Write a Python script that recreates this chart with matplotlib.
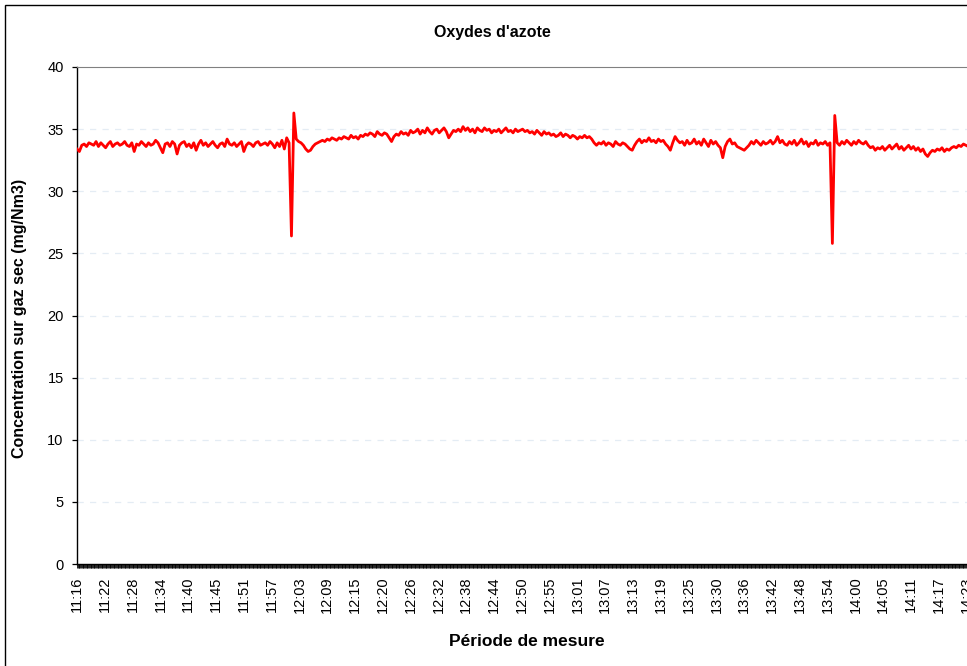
import matplotlib
matplotlib.use("Agg")
import matplotlib.pyplot   as plt
from matplotlib.patches    import Rectangle
import numpy               as np

plt.rcParams["font.family"] = ["Liberation Sans", "DejaVu Sans"]

# NOx, une valeur toutes les 30 s (3 pas de 10 s)
nox = [
    33.4, 33.2, 33.7, 33.8, 33.6, 33.9, 33.8, 33.7, 34.0, 33.6,
    33.9, 33.7, 33.5, 33.8, 34.0, 33.6, 33.8, 33.9, 33.7, 33.8,
    34.0, 33.7, 33.6, 33.9, 33.2, 33.8, 33.7, 34.0, 33.8, 33.6,
    33.9, 33.7, 33.8, 34.1, 33.9, 33.5, 33.1, 33.8, 33.9, 33.6,
    34.0, 33.8, 33.0, 33.7, 33.9, 34.0, 33.6, 33.8, 33.5, 33.9,
    33.3, 33.8, 34.1, 33.7, 33.9, 33.6, 33.8, 34.0, 33.7, 33.5,
    33.8, 33.9, 33.6, 34.2, 33.8, 33.7, 33.9, 33.6, 33.8, 34.0,
    33.2, 33.7, 33.9, 33.8, 33.6, 33.9, 34.0, 33.7, 33.8, 33.9,
    33.7, 34.0, 33.8, 33.5, 33.9, 33.6, 34.1, 33.4, 34.3, 33.9,
    26.4, 36.3, 34.2, 34.0, 33.9, 33.7, 33.4, 33.2, 33.3, 33.6,
    33.8, 33.9, 34.0, 34.1, 34.0, 34.2, 34.1, 34.3, 34.2, 34.1,
    34.3, 34.2, 34.4, 34.3, 34.2, 34.5, 34.3, 34.4, 34.2, 34.5,
    34.4, 34.6, 34.5, 34.7, 34.6, 34.4, 34.8, 34.6, 34.5, 34.7,
    34.6, 34.3, 34.0, 34.4, 34.6, 34.5, 34.8, 34.6, 34.7, 34.5,
    34.9, 34.7, 34.8, 35.0, 34.6, 34.9, 34.7, 35.1, 34.8, 34.6,
    34.9, 35.0, 34.7, 34.9, 35.1, 34.8, 34.3, 34.6, 34.9, 34.8,
    35.0, 34.8, 35.2, 34.9, 35.1, 34.8, 35.0, 34.7, 35.1, 34.9,
    34.8, 35.1, 34.9, 35.0, 34.7, 34.9, 34.8, 35.0, 34.7, 34.9,
    35.1, 34.8, 34.9, 34.7, 35.0, 34.8, 34.9, 35.0, 34.8, 34.9,
    34.7, 34.8, 34.6, 34.9, 34.7, 34.5, 34.8, 34.6, 34.7, 34.5,
    34.6, 34.4, 34.5, 34.7, 34.4, 34.6, 34.5, 34.3, 34.5, 34.4,
    34.2, 34.4, 34.3, 34.5, 34.3, 34.4, 34.2, 33.9, 33.7, 33.9,
    33.8, 34.0, 33.7, 33.9, 33.8, 33.6, 34.0, 33.8, 33.7, 33.9,
    33.8, 33.6, 33.4, 33.3, 33.7, 34.0, 34.2, 33.9, 34.1, 34.0,
    34.3, 34.0, 34.1, 33.9, 34.2, 34.0, 34.1, 33.8, 33.6, 33.3,
    33.9, 34.4, 34.1, 33.9, 34.0, 33.7, 34.1, 33.8, 33.9, 34.2,
    33.8, 34.0, 33.7, 34.2, 33.9, 33.6, 34.1, 33.8, 34.0, 33.7,
    33.5, 32.7, 33.6, 34.0, 34.2, 33.8, 33.9, 33.6, 33.5, 33.4,
    33.3, 33.5, 33.7, 34.0, 33.8, 34.1, 33.9, 33.7, 34.0, 33.8,
    33.9, 34.1, 33.8, 34.0, 34.4, 33.9, 34.1, 33.8, 33.7, 34.0,
    33.8, 34.1, 33.7, 33.9, 34.2, 33.8, 34.0, 33.6, 33.9, 33.8,
    34.1, 33.7, 33.9, 33.8, 34.0, 33.7, 33.9, 25.8, 36.1, 33.9,
    33.7, 34.0, 33.8, 34.1, 33.9, 33.7, 34.0, 33.8, 34.1, 33.9,
    33.8, 34.0, 33.7, 33.5, 33.6, 33.3, 33.5, 33.4, 33.6, 33.3,
    33.5, 33.7, 33.4, 33.6, 33.8, 33.4, 33.6, 33.3, 33.5, 33.7,
    33.4, 33.6, 33.3, 33.5, 33.2, 33.4, 33.0, 32.8, 33.1, 33.3,
    33.2, 33.4, 33.3, 33.5, 33.2, 33.4, 33.3, 33.5, 33.6, 33.5,
    33.7, 33.6, 33.8, 33.7, 33.6, 33.7, 33.8, 33.6, 33.7, 33.8,
]

# une étiquette toutes les 35 mesures de 10 s
tick_labels = [
    "11:16", "11:22", "11:28", "11:34", "11:40", "11:45", "11:51", "11:57",
    "12:03", "12:09", "12:15", "12:20", "12:26", "12:32", "12:38", "12:44",
    "12:50", "12:55", "13:01", "13:07", "13:13", "13:19", "13:25", "13:30",
    "13:36", "13:42", "13:48", "13:54", "14:00", "14:05", "14:11", "14:17",
    "14:23",
]
label_step  = 35
sample_step = 3
y_ticks     = [0, 5, 10, 15, 20, 25, 30, 35, 40]

x      = np.arange(len(nox)) * sample_step
n_cat  = len(nox) * sample_step

fig = plt.figure(figsize=(9.67, 6.66), dpi=100)
ax  = fig.add_axes([77 / 967, 102 / 666, n_cat * 0.7943 / 967, 497 / 666])

# cadre du graphique (coupé à droite et en bas)
fig.add_artist(Rectangle((5 / 967, -0.1), 1.2, 1.1 - 5 / 666, transform=fig.transFigure,
                         fill=False, edgecolor="black", linewidth=1.0, clip_on=False))

ax.plot(x, nox, color="#ff0000", linewidth=2.0, solid_joinstyle="round", zorder=3)

ax.set_ylim(0, 40)
ax.set_xlim(0, n_cat)
ax.set_yticks(y_ticks)
ax.set_yticklabels([str(v) for v in y_ticks], fontsize=10.5)
for v in y_ticks[1:-1]:
    ax.axhline(v, color="#e4ecf4", linewidth=0.9, dashes=(5, 5), zorder=1)

ax.set_xticks(np.arange(len(tick_labels)) * label_step)
ax.set_xticklabels(tick_labels, rotation=90, fontsize=10.5, va="top", ha="center")
ax.set_xticks(np.arange(n_cat), minor=True)
ax.tick_params(axis="x", which="both", direction="out", length=3, width=0.6, color="black")
ax.tick_params(axis="x", which="major", pad=6)
ax.tick_params(axis="y", direction="out", length=3.6, width=0.9, pad=6)

ax.spines["top"].set_color("#808080")
ax.spines["right"].set_visible(False)
for s in ["left", "bottom"]:
    ax.spines[s].set_color("black")
    ax.spines[s].set_linewidth(1.0)

fig.text(492 / 967, 1 - 33 / 666, "Oxydes d'azote", ha="center", va="center",
         fontsize=11.5, fontweight="bold")
fig.text(527 / 967, 1 - 641 / 666, "Période de mesure", ha="center", va="center",
         fontsize=12.5, fontweight="bold")
fig.text(20 / 967, 1 - 318 / 666, "Concentration sur gaz sec (mg/Nm3)", ha="center",
         va="center", rotation=90, fontsize=11.5, fontweight="bold")

fig.savefig("out.png", dpi=100)
